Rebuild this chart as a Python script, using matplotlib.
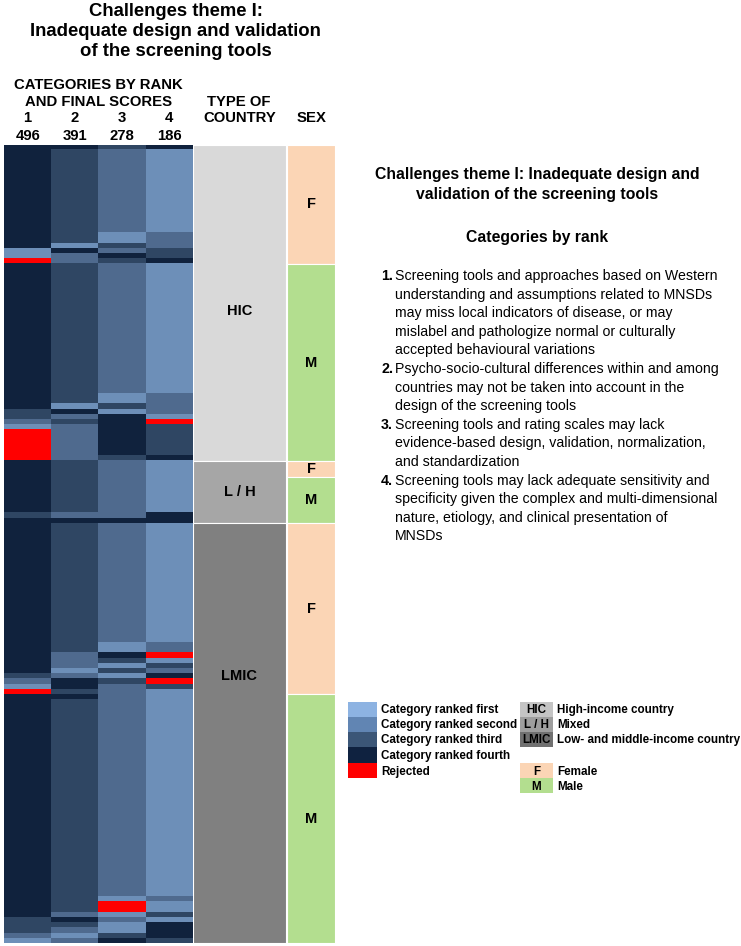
import numpy as np
import matplotlib
matplotlib.use("Agg")
import matplotlib.pyplot as plt
from matplotlib.colors import ListedColormap, BoundaryNorm
from matplotlib.patches import Rectangle
import matplotlib.transforms as mtrans

plt.rcParams['font.family'] = ['Liberation Sans', 'DejaVu Sans']

# ---------------- data ----------------
# codes: 1 = darkest, 2 = dark-mid, 3 = mid, 4 = light, 0 = rejected
col1_runs = [(1, 20), (4, 2), (0, 1), (1, 28), (2, 2), (3, 1), (4, 1), (0, 6), (1, 10), (2, 1),
             (1, 30), (2, 1), (3, 1), (4, 1), (0, 1), (1, 43), (2, 3), (3, 1), (4, 1)]
col2_runs = [(1, 1), (2, 18), (4, 1), (1, 1), (3, 2), (2, 27), (4, 1), (1, 1), (3, 1), (2, 1),
             (3, 7), (2, 10), (3, 1), (1, 1), (2, 25), (3, 3), (4, 1), (3, 1), (1, 2), (2, 1),
             (1, 1), (2, 41), (3, 1), (1, 1), (2, 1), (3, 1), (4, 1), (3, 1)]
col3_runs = [(2, 1), (3, 16), (4, 2), (2, 1), (3, 1), (1, 1), (2, 1), (3, 25), (4, 2), (2, 1),
             (4, 1), (1, 8), (2, 1), (3, 11), (1, 1), (3, 23), (4, 2), (1, 1), (2, 1), (4, 1),
             (2, 1), (4, 1), (2, 1), (3, 41), (4, 1), (0, 2), (4, 1), (3, 1), (4, 2), (2, 1), (1, 1)]
col4_runs = [(1, 1), (4, 16), (3, 3), (2, 2), (1, 1), (4, 25), (3, 4), (4, 1), (0, 1), (2, 6),
             (1, 1), (4, 10), (1, 2), (4, 23), (3, 2), (0, 1), (4, 1), (2, 1), (3, 1), (1, 1),
             (0, 1), (2, 1), (4, 40), (3, 1), (4, 2), (2, 1), (4, 1), (1, 3), (2, 1)]

rank_labels = ["1", "2", "3", "4"]
final_scores = [496, 391, 278, 186]

country_groups = ["HIC", "L / H", "LMIC"]
country_counts = [61, 12, 81]
sex_groups = ["F", "M", "F", "M", "F", "M"]
sex_counts = [23, 38, 3, 9, 33, 48]

title_lines = ["Challenges theme I:", "Inadequate design and validation", "of the screening tools"]

category_texts = [
    ["Screening tools and approaches based on Western",
     "understanding and assumptions related to MNSDs",
     "may miss local indicators of disease, or may",
     "mislabel and pathologize normal or culturally",
     "accepted behavioural variations"],
    ["Psycho-socio-cultural differences within and among",
     "countries may not be taken into account in the",
     "design of the screening tools"],
    ["Screening tools and rating scales may lack",
     "evidence-based design, validation, normalization,",
     "and standardization"],
    ["Screening tools may lack adequate sensitivity and",
     "specificity given the complex and multi-dimensional",
     "nature, etiology, and clinical presentation of",
     "MNSDs"],
]

legend_rank_labels = ["Category ranked first", "Category ranked second", "Category ranked third",
                      "Category ranked fourth", "Rejected"]
legend_country_labels = ["High-income country", "Mixed", "Low- and middle-income country"]
legend_sex_labels = ["Female", "Male"]

# ---------------- style ----------------
RED = "#ff0000"
DARKEST = "#10223d"
DARKMID = "#2f4663"
MID = "#4f6a8e"
LIGHT = "#6d8fb8"
heat_cmap = ListedColormap([RED, DARKEST, DARKMID, MID, LIGHT])
heat_norm = BoundaryNorm([-0.5, 0.5, 1.5, 2.5, 3.5, 4.5], heat_cmap.N)
country_colors = {"HIC": "#d9d9d9", "L / H": "#a6a6a6", "LMIC": "#808080"}
sex_colors = {"F": "#fbd5b5", "M": "#b3de8f"}
legend_rank_colors = ["#8db3e2", "#6185b3", "#3b5677", "#0f2240", "#ff0000"]
legend_country_colors = ["#c4c4c4", "#9e9e9e", "#707070"]

W, H = 741, 946
fig = plt.figure(figsize=(W / 100, H / 100), dpi=100)


def fx(x):
    return x / W


def fy(y):
    return 1 - y / H


def add_ax(x0, x1, y0, y1):
    ax = fig.add_axes([fx(x0), fy(y1), fx(x1) - fx(x0), (y1 - y0) / H])
    ax.set_axis_off()
    return ax


TOP, BOT = 144.7, 943.4
n_rows = sum(c for _, c in col1_runs)


def expand(runs):
    return np.concatenate([np.full(c, v) for v, c in runs])


mat = np.column_stack([expand(r) for r in (col1_runs, col2_runs, col3_runs, col4_runs)])

HDR = 10.7

# heatmap
axh = add_ax(4, 193, TOP, BOT)
axh.imshow(mat, cmap=heat_cmap, norm=heat_norm, aspect='auto', interpolation='nearest',
           extent=(-0.5, 3.5, n_rows, 0))
axh.set_xlim(-0.5, 3.5)
axh.set_ylim(n_rows, 0)
trans = mtrans.blended_transform_factory(axh.transData, fig.transFigure)
for i, (lab, sc) in enumerate(zip(rank_labels, final_scores)):
    axh.text(i, fy(118), lab, transform=trans, ha='center', va='center',
             fontsize=HDR, fontweight='bold')
    axh.text(i, fy(136), str(sc), transform=trans, ha='center', va='center',
             fontsize=HDR, fontweight='bold')

# country column
axc = add_ax(193, 286, TOP, BOT)
axc.set_xlim(0, 1)
axc.set_ylim(n_rows, 0)
bottoms = np.concatenate([[0], np.cumsum(country_counts)[:-1]])
axc.bar(0.5, country_counts, bottom=bottoms, width=1,
        color=[country_colors[g] for g in country_groups], edgecolor='white', linewidth=0.8)
country_label_rows = [32, bottoms[1] + country_counts[1] / 2, 102.5]
for g, yr in zip(country_groups, country_label_rows):
    axc.text(0.5, yr, g, ha='center', va='center', fontsize=10.5, fontweight='bold')

# sex column
axs = add_ax(287, 335, TOP, BOT)
axs.set_xlim(0, 1)
axs.set_ylim(n_rows, 0)
sb = np.concatenate([[0], np.cumsum(sex_counts)[:-1]])
axs.bar(0.5, sex_counts, bottom=sb, width=1,
        color=[sex_colors[g] for g in sex_groups], edgecolor='white', linewidth=0.8)
for g, b, c in zip(sex_groups, sb, sex_counts):
    axs.text(0.5, b + c / 2, g, ha='center', va='center', fontsize=10.5, fontweight='bold')

# headers
for ln, yy in zip(title_lines, [12, 32, 52]):
    fig.text(fx(175.5), fy(yy), ln, ha='center', va='center', fontsize=13.3, fontweight='bold')
fig.text(fx(98.5), fy(85), "CATEGORIES BY RANK", ha='center', va='center', fontsize=HDR, fontweight='bold')
fig.text(fx(99), fy(101.7), "AND FINAL SCORES", ha='center', va='center', fontsize=HDR, fontweight='bold')
fig.text(fx(239), fy(101.7), "TYPE OF", ha='center', va='center', fontsize=HDR, fontweight='bold')
fig.text(fx(239.5), fy(118), "COUNTRY", ha='center', va='center', fontsize=HDR, fontweight='bold')
fig.text(fx(311.5), fy(118), "SEX", ha='center', va='center', fontsize=HDR, fontweight='bold')

# right description
fig.text(fx(537), fy(174), "Challenges theme I: Inadequate design and", ha='center', va='center',
         fontsize=11.3, fontweight='bold')
fig.text(fx(537), fy(194), "validation of the screening tools", ha='center', va='center',
         fontsize=11.3, fontweight='bold')
fig.text(fx(537), fy(237), "Categories by rank", ha='center', va='center',
         fontsize=11.3, fontweight='bold')

y = 276
step = 18.6
for k, lines in enumerate(category_texts):
    fig.text(fx(393), fy(y), f"{k + 1}.", ha='right', va='center', fontsize=10.3, fontweight='bold')
    for ln in lines:
        fig.text(fx(395), fy(y), ln, ha='left', va='center', fontsize=10.2)
        y += step

# legends
axl = fig.add_axes([0, 0, 1, 1])
axl.set_axis_off()
axl.set_xlim(0, W)
axl.set_ylim(H, 0)
LEG = 8.4
row_edges = [701.7, 716.7, 731.7, 746.7, 763.3, 778.3]
for i, (lab, col) in enumerate(zip(legend_rank_labels, legend_rank_colors)):
    y0, y1 = row_edges[i], row_edges[i + 1]
    axl.add_patch(Rectangle((348, y0), 29, y1 - y0, facecolor=col, edgecolor='none'))
    axl.text(381, (y0 + y1) / 2 + 1, lab, ha='left', va='center', fontsize=LEG, fontweight='bold')
for i, (g, lab, col) in enumerate(zip(country_groups, legend_country_labels, legend_country_colors)):
    y0, y1 = row_edges[i], row_edges[i + 1]
    axl.add_patch(Rectangle((520, y0), 33, y1 - y0, facecolor=col, edgecolor='none'))
    axl.text(536.5, (y0 + y1) / 2 + 1, g, ha='center', va='center',
             fontsize=LEG, fontweight='bold')
    axl.text(557, (y0 + y1) / 2 + 1, lab, ha='left', va='center', fontsize=LEG, fontweight='bold')
sex_edges = [763.3, 778.3, 793.3]
for i, (g, lab) in enumerate(zip(["F", "M"], legend_sex_labels)):
    y0, y1 = sex_edges[i], sex_edges[i + 1]
    axl.add_patch(Rectangle((520, y0), 33, y1 - y0, facecolor=sex_colors[g], edgecolor='none'))
    axl.text(536.5, (y0 + y1) / 2 + 1, g, ha='center', va='center', fontsize=LEG, fontweight='bold')
    axl.text(557, (y0 + y1) / 2 + 1, lab, ha='left', va='center', fontsize=LEG, fontweight='bold')

fig.savefig("out.png", dpi=100)
